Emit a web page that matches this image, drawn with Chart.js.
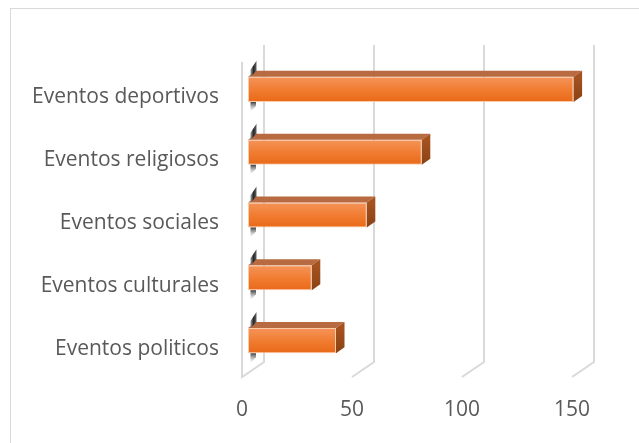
<!DOCTYPE html>
<html>
<head>
<meta charset="utf-8">
<script src="https://cdn.jsdelivr.net/npm/chart.js@4"></script>
<style>
  html, body { margin: 0; padding: 0; background: #fff; }
  #wrap { position: relative; width: 639px; height: 443px; overflow: hidden; }
  #frame { position: absolute; left: 10px; top: 8px; width: 700px; height: 500px; border: 1px solid #d9d9d9; }
  #chart { position: absolute; left: 0; top: 0; }
</style>
</head>
<body>
<div id="wrap">
  <div id="frame"></div>
  <canvas id="chart" width="639" height="443"></canvas>
</div>
<script>
const categories = ["Eventos deportivos", "Eventos religiosos", "Eventos sociales", "Eventos culturales", "Eventos politicos"];
const values = [148, 79, 54, 29, 40];
const xTicks = [0, 50, 100, 150];

// 3d look: offsets from the bar plane to the front edge and back wall
const FRONT = { dx: -6, dy: 5 };
const BACK = { dx: 16, dy: -10 };
const BAR_DEPTH = { dx: 8.5, dy: -6 };
const WALL_TOP = 45;

const textFont = { family: "'Open Sans', sans-serif", size: 21 };

function frontGradient(ctx) {
  const chart = ctx.chart;
  if (!chart.chartArea) return "#ef7a2c";
  const y = chart.scales.y.getPixelForValue(ctx.dataIndex);
  const g = chart.ctx.createLinearGradient(0, y - 12.5, 0, y + 12.5);
  g.addColorStop(0, "#f4945a");
  g.addColorStop(0.5, "#f17d32");
  g.addColorStop(1, "#e96918");
  return g;
}

const wallPlugin = {
  id: "wall3d",
  beforeDatasetsDraw(chart) {
    const c = chart.ctx;
    const x = chart.scales.x;
    const bottom = chart.chartArea.bottom;
    c.save();
    c.strokeStyle = "#d9d9d9";
    c.lineWidth = 2;
    xTicks.forEach(v => {
      const px = x.getPixelForValue(v);
      c.beginPath();
      c.moveTo(px + BACK.dx, WALL_TOP);
      c.lineTo(px + BACK.dx, bottom + BACK.dy);
      c.lineTo(px + FRONT.dx, bottom + FRONT.dy);
      if (v === 0) c.lineTo(px + FRONT.dx, WALL_TOP + (FRONT.dy - BACK.dy) + 2);
      c.stroke();
    });
    c.restore();
  },
  afterDatasetsDraw(chart) {
    const c = chart.ctx;
    const meta = chart.getDatasetMeta(0);
    const x0 = chart.scales.x.getPixelForValue(0);
    c.save();
    meta.data.forEach(bar => {
      const h = bar.height;
      const top = bar.y - h / 2;
      const bot = bar.y + h / 2;
      const right = bar.x;
      const left = x0;

      // top face
      c.fillStyle = "#b86a40";
      c.beginPath();
      c.moveTo(left, top);
      c.lineTo(right, top);
      c.lineTo(right + BAR_DEPTH.dx, top + BAR_DEPTH.dy);
      c.lineTo(left + BAR_DEPTH.dx, top + BAR_DEPTH.dy);
      c.closePath();
      c.fill();

      // end face
      const sg = c.createLinearGradient(0, top, 0, bot);
      sg.addColorStop(0, "#a5521f");
      sg.addColorStop(1, "#8a4214");
      c.fillStyle = sg;
      c.beginPath();
      c.moveTo(right, top);
      c.lineTo(right + BAR_DEPTH.dx, top + BAR_DEPTH.dy);
      c.lineTo(right + BAR_DEPTH.dx, bot + BAR_DEPTH.dy);
      c.lineTo(right, bot);
      c.closePath();
      c.fill();

      // shadow on the side wall above the bar
      const ag = c.createLinearGradient(left + 2, 0, left + 9, 0);
      ag.addColorStop(0, "rgba(150,150,150,0.8)");
      ag.addColorStop(0.5, "rgba(40,40,40,1)");
      ag.addColorStop(1, "rgba(90,90,90,0.9)");
      c.fillStyle = ag;
      c.beginPath();
      c.moveTo(left + 2.5, top);
      c.lineTo(left + 2.5, top - 7);
      c.lineTo(left + BAR_DEPTH.dx, top + BAR_DEPTH.dy - 10);
      c.lineTo(left + BAR_DEPTH.dx, top + BAR_DEPTH.dy);
      c.closePath();
      c.fill();

      // shadow below the bar
      const bg = c.createLinearGradient(0, bot, 0, bot + 10);
      bg.addColorStop(0, "rgba(50,50,50,0.95)");
      bg.addColorStop(1, "rgba(180,180,180,0)");
      c.fillStyle = bg;
      c.beginPath();
      c.moveTo(left + 2.5, bot);
      c.lineTo(left + 8, bot);
      c.lineTo(left + 8, bot + 4);
      c.lineTo(left + 2.5, bot + 10);
      c.closePath();
      c.fill();
    });
    c.restore();
  }
};

new Chart(document.getElementById("chart"), {
  type: "bar",
  data: {
    labels: categories,
    datasets: [{
      data: values,
      backgroundColor: frontGradient,
      borderColor: "rgba(250,196,160,0.9)",
      borderWidth: 1,
      borderSkipped: false,
      barPercentage: 0.4,
      categoryPercentage: 1
    }]
  },
  options: {
    indexAxis: "y",
    responsive: false,
    animation: false,
    devicePixelRatio: 1,
    layout: { padding: { left: 0, right: 61, top: 58, bottom: 0 } },
    plugins: { legend: { display: false }, tooltip: { enabled: false } },
    scales: {
      x: {
        min: 0,
        max: 150,
        afterFit: s => { s.height = 71; },
        afterBuildTicks: s => { s.ticks = xTicks.map(v => ({ value: v })); },
        grid: { display: false },
        border: { display: false },
        ticks: { font: textFont, color: "#595959", padding: 17, labelOffset: -6, maxRotation: 0 }
      },
      y: {
        afterFit: s => { s.width = 248; },
        grid: { display: false },
        border: { display: false },
        ticks: { font: textFont, color: "#595959", padding: 21, labelOffset: 8 }
      }
    }
  },
  plugins: [wallPlugin]
});
</script>
</body>
</html>
